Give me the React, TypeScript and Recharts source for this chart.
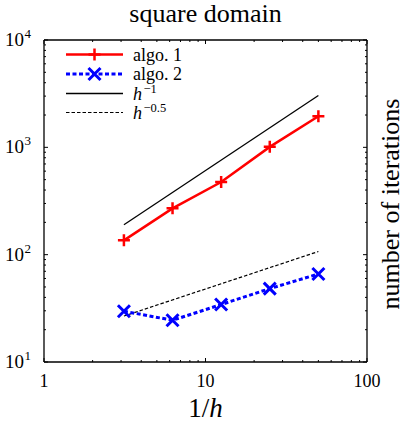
import { LineChart, Line, XAxis, YAxis, Legend } from 'recharts'

const invH = [3.125, 6.25, 12.5, 25, 50]
const algo1 = [136, 270, 475, 1010, 1950]
const algo2 = [29.7, 24.5, 34.3, 48.3, 66]
const slope1 = [190, null, null, null, 3040]
const slope05 = [26.8, null, null, null, 107]

const xTicks = [1, 2, 3, 4, 5, 6, 7, 8, 9, 10, 20, 30, 40, 50, 60, 70, 80, 90, 100]
const yTicks = [
  10, 20, 30, 40, 50, 60, 70, 80, 90, 100, 200, 300, 400, 500, 600, 700, 800, 900,
  1000, 2000, 3000, 4000, 5000, 6000, 7000, 8000, 9000, 10000
]
const xMajor = [1, 10, 100]
const yMajor = [10, 100, 1000, 10000]

const FONT = 'Liberation Serif, Times New Roman, serif'
const txt = { fontFamily: FONT }

const data = invH.map((x, i) => ({
  x,
  algo1: algo1[i],
  algo2: algo2[i],
  slope1: slope1[i],
  slope05: slope05[i]
}))

function BottomTick({ x, y, payload }: any) {
  const v = payload.value
  const major = xMajor.includes(v)
  return (
    <g>
      <line x1={x} x2={x} y1={y} y2={y - (major ? 4 : 2)} stroke="#000" strokeWidth={1} />
      {major && (
        <text x={x} y={y + 25} textAnchor="middle" style={txt} fontSize={18} fill="#000">
          {v}
        </text>
      )}
    </g>
  )
}

function TopTick({ x, y, payload }: any) {
  const major = xMajor.includes(payload.value)
  return <line x1={x} x2={x} y1={y} y2={y + (major ? 4 : 2)} stroke="#000" strokeWidth={1} />
}

function LeftTick({ x, y, payload }: any) {
  const v = payload.value
  const major = yMajor.includes(v)
  return (
    <g>
      <line x1={x} x2={x + (major ? 4 : 2)} y1={y} y2={y} stroke="#000" strokeWidth={1} />
      {major && (
        <text x={x - 13} y={y + 6} textAnchor="end" style={txt} fontSize={19} fill="#000">
          10<tspan dx={0.5} dy={-8} fontSize={13}>{Math.round(Math.log10(v))}</tspan>
        </text>
      )}
    </g>
  )
}

function RightTick({ x, y, payload }: any) {
  const major = yMajor.includes(payload.value)
  return <line x1={x} x2={x - (major ? 4 : 2)} y1={y} y2={y} stroke="#000" strokeWidth={1} />
}

function plusDot(p: any) {
  const { cx, cy, index } = p
  return (
    <path key={`plus-${index}`} d={`M${cx - 6},${cy}h12M${cx},${cy - 6}v12`} stroke="#ff0000" strokeWidth={2.5} fill="none" />
  )
}

function crossDot(p: any) {
  const { cx, cy, index } = p
  return (
    <path
      key={`cross-${index}`}
      d={`M${cx - 6},${cy - 6}L${cx + 6},${cy + 6}M${cx - 6},${cy + 6}L${cx + 6},${cy - 6}`}
      stroke="#0000ff"
      strokeWidth={3}
      fill="none"
    />
  )
}

function TitleLabel({ viewBox }: any) {
  return (
    <text x={viewBox.x + viewBox.width / 2} y={viewBox.y + viewBox.height - 18} textAnchor="middle" style={txt} fontSize={26} fill="#000">
      square domain
    </text>
  )
}

function XLabel({ viewBox }: any) {
  return (
    <text x={viewBox.x + viewBox.width / 2} y={viewBox.y + 55} textAnchor="middle" style={txt} fontSize={27} fill="#000">
      1/<tspan fontStyle="italic">h</tspan>
    </text>
  )
}

function YLabel({ viewBox }: any) {
  const cx = viewBox.x + 32
  const cy = viewBox.y + viewBox.height / 2 + 3
  return (
    <text x={cx} y={cy} transform={`rotate(-90 ${cx} ${cy})`} textAnchor="middle" style={txt} fontSize={26} fill="#000">
      number of iterations
    </text>
  )
}

function PowerText({ x, y, exp }: { x: number; y: number; exp: string }) {
  return (
    <text x={x} y={y} style={txt} fontSize={18}>
      <tspan fontStyle="italic">h</tspan>
      <tspan dx={1.5} dy={-7} fontSize={12.5}>{exp}</tspan>
    </text>
  )
}

function LegendBox() {
  const rows = [10.5, 30, 49.5, 68.5]
  return (
    <svg width={150} height={80} style={{ display: 'block' }}>
      {/* algo. 1 */}
      <line x1={6} x2={63} y1={rows[0]} y2={rows[0]} stroke="#ff0000" strokeWidth={2.5} />
      <path d={`M28.5,${rows[0]}h12M34.5,${rows[0] - 6}v12`} stroke="#ff0000" strokeWidth={2.5} />
      <text x={73} y={rows[0] + 6} style={txt} fontSize={18}>algo. 1</text>
      {/* algo. 2 */}
      <line x1={6} x2={63} y1={rows[1]} y2={rows[1]} stroke="#0000ff" strokeWidth={3} strokeDasharray="4 2.5" />
      <path
        d={`M28.5,${rows[1] - 6}L40.5,${rows[1] + 6}M28.5,${rows[1] + 6}L40.5,${rows[1] - 6}`}
        stroke="#0000ff"
        strokeWidth={3}
      />
      <text x={73} y={rows[1] + 6} style={txt} fontSize={18}>algo. 2</text>
      {/* h^-1 */}
      <line x1={6} x2={63} y1={rows[2]} y2={rows[2]} stroke="#000" strokeWidth={1.3} />
      <PowerText x={73} y={rows[2] + 6} exp="−1" />
      {/* h^-0.5 */}
      <line x1={6} x2={63} y1={rows[3]} y2={rows[3]} stroke="#000" strokeWidth={1.2} strokeDasharray="3.5 2" />
      <PowerText x={73} y={rows[3] + 6} exp="−0.5" />
    </svg>
  )
}

export default function App() {
  return (
    <div style={{ position: 'absolute', left: 0, top: 0, background: '#fff', fontFamily: FONT }}>
      <LineChart width={405} height={422} data={data} margin={{ top: 39, right: 37, bottom: 59, left: 43 }}>
        <XAxis
          dataKey="x"
          type="number"
          scale="log"
          domain={[1, 100]}
          allowDataOverflow
          ticks={xTicks}
          interval={0}
          height={1}
          tickSize={0}
          tickMargin={0}
          tick={BottomTick}
          tickLine={false}
          axisLine={{ stroke: '#000', strokeWidth: 1.3 }}
          label={<XLabel />}
        />
        <XAxis
          xAxisId="top"
          orientation="top"
          dataKey="x"
          type="number"
          scale="log"
          domain={[1, 100]}
          allowDataOverflow
          ticks={xTicks}
          interval={0}
          height={1}
          tickSize={0}
          tickMargin={0}
          tick={TopTick}
          tickLine={false}
          axisLine={{ stroke: '#000', strokeWidth: 1.3 }}
          label={<TitleLabel />}
        />
        <YAxis
          type="number"
          scale="log"
          domain={[10, 10000]}
          allowDataOverflow
          ticks={yTicks}
          interval={0}
          width={1}
          tickSize={0}
          tickMargin={0}
          tick={LeftTick}
          tickLine={false}
          axisLine={{ stroke: '#000', strokeWidth: 1.3 }}
        />
        <YAxis
          yAxisId="right"
          orientation="right"
          type="number"
          scale="log"
          domain={[10, 10000]}
          allowDataOverflow
          ticks={yTicks}
          interval={0}
          width={1}
          tickSize={0}
          tickMargin={0}
          tick={RightTick}
          tickLine={false}
          axisLine={{ stroke: '#000', strokeWidth: 1.3 }}
          label={<YLabel />}
        />
        <Line dataKey="slope1" stroke="#000" strokeWidth={1.3} dot={false} connectNulls isAnimationActive={false} />
        <Line
          dataKey="slope05"
          stroke="#000"
          strokeWidth={1.2}
          strokeDasharray="3.5 2"
          dot={false}
          connectNulls
          isAnimationActive={false}
        />
        <Line dataKey="algo1" stroke="#ff0000" strokeWidth={2.5} dot={plusDot} isAnimationActive={false} />
        <Line
          dataKey="algo2"
          stroke="#0000ff"
          strokeWidth={3}
          strokeDasharray="4 2.5"
          dot={crossDot}
          isAnimationActive={false}
        />
        <Legend
          layout="vertical"
          align="center"
          verticalAlign="middle"
          wrapperStyle={{ left: 60, top: 44, width: 150, height: 80 }}
          content={() => <LegendBox />}
        />
      </LineChart>
    </div>
  )
}
